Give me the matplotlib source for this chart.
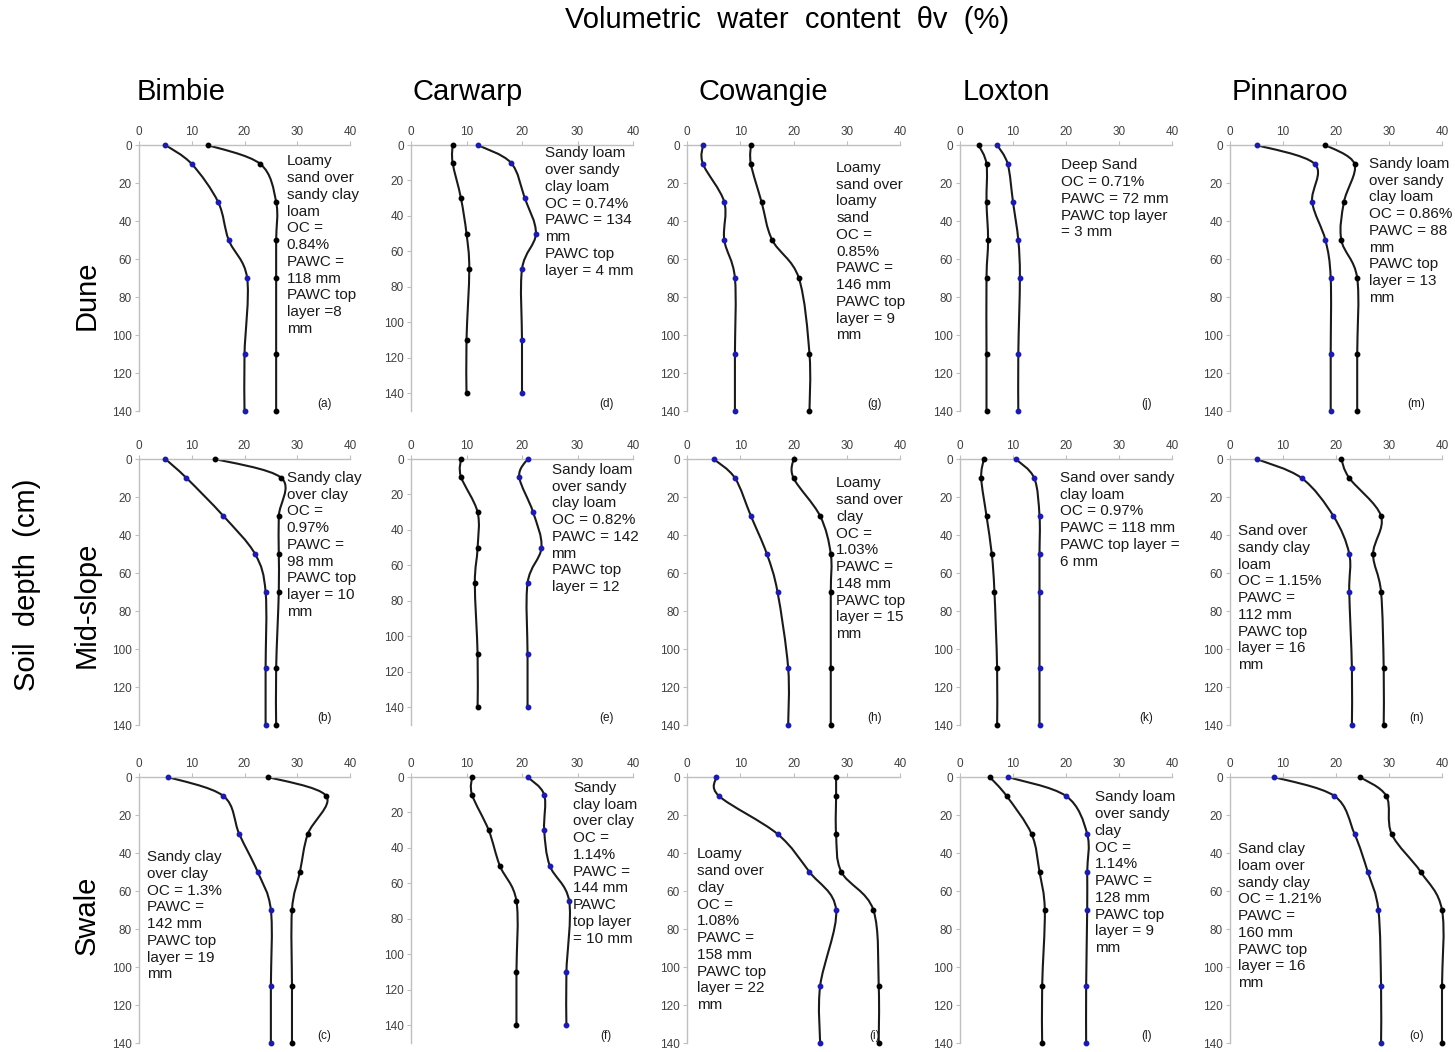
import numpy as np
import matplotlib
matplotlib.use("Agg")
import matplotlib.pyplot as plt
from matplotlib.path import Path
from matplotlib.patches import PathPatch

plt.rcParams['font.family'] = ['Liberation Sans', 'DejaVu Sans']

# depths (cm) where water content was measured
depths = [0, 10, 30, 50, 70, 110, 140]

sites = ["Bimbie", "Carwarp", "Cowangie", "Loxton", "Pinnaroo"]
positions = ["Dune", "Mid-slope", "Swale"]
panel_tags = [["(a)", "(d)", "(g)", "(j)", "(m)"],
              ["(b)", "(e)", "(h)", "(k)", "(n)"],
              ["(c)", "(f)", "(i)", "(l)", "(o)"]]

# blue-marker profile, rows = Dune / Mid-slope / Swale, cols = sites
blue = [
    [[5, 10, 15, 17, 20.5, 20, 20],
     [12, 18, 20.5, 22.5, 20, 20, 20],
     [3, 3, 7, 7, 9, 9, 9],
     [7, 9, 10, 11, 11.3, 11, 11],
     [5, 16, 15.5, 18, 19, 19, 19]],
    [[5, 9, 16, 22, 24, 24, 24],
     [21, 19.5, 22, 23.5, 21, 21, 21],
     [5, 9, 12, 15, 17, 19, 19],
     [10.5, 14, 15, 15, 15, 15, 15],
     [5, 13.5, 19.5, 22.5, 22.5, 23, 23]],
    [[5.5, 16, 19, 22.5, 25, 25, 25],
     [21, 24, 24, 25, 28.5, 28, 28],
     [5.5, 6, 17, 23, 28, 25, 25],
     [9, 20, 24, 24, 24, 23.8, 23.8],
     [8.3, 19.7, 23.5, 26, 28, 28.5, 28.5]],
]
# black-marker profile
black = [
    [[13, 23, 26, 26, 26, 26, 26],
     [7.5, 7.5, 9, 10, 10.5, 10, 10],
     [12, 12, 14, 16, 21, 23, 23],
     [3.5, 5, 5, 5.3, 5, 5, 5],
     [18, 23.5, 21.5, 21, 24, 24, 24]],
    [[14.5, 27, 26.5, 26.5, 26.5, 26, 26],
     [9, 9, 12, 12, 11.5, 12, 12],
     [20, 20, 25, 27, 27, 27, 27],
     [4.5, 4, 5, 6, 6.5, 7, 7],
     [21, 22.5, 28.5, 27, 28.5, 29, 29]],
    [[24.5, 35.5, 32, 30.5, 29, 29, 29],
     [11, 11, 14, 16, 19, 19, 19],
     [28, 28, 28, 29, 35, 36, 36],
     [5.6, 8.8, 13.5, 15, 16, 15.5, 15.5],
     [24.5, 29.5, 30.5, 36, 40, 40, 40]],
]

notes = [
    ["Loamy\nsand over\nsandy clay\nloam\nOC =\n0.84%\nPAWC =\n118 mm\nPAWC top\nlayer =8\nmm",
     "Sandy loam\nover sandy\nclay loam\nOC = 0.74%\nPAWC = 134\nmm\nPAWC top\nlayer = 4 mm",
     "Loamy\nsand over\nloamy\nsand\nOC =\n0.85%\nPAWC =\n146 mm\nPAWC top\nlayer = 9\nmm",
     "Deep Sand\nOC = 0.71%\nPAWC = 72 mm\nPAWC top layer\n= 3 mm",
     "Sandy loam\nover sandy\nclay loam\nOC = 0.86%\nPAWC = 88\nmm\nPAWC top\nlayer = 13\nmm"],
    ["Sandy clay\nover clay\nOC =\n0.97%\nPAWC =\n98 mm\nPAWC top\nlayer = 10\nmm",
     "Sandy loam\nover sandy\nclay loam\nOC = 0.82%\nPAWC = 142\nmm\nPAWC top\nlayer = 12",
     "Loamy\nsand over\nclay\nOC =\n1.03%\nPAWC =\n148 mm\nPAWC top\nlayer = 15\nmm",
     "Sand over sandy\nclay loam\nOC = 0.97%\nPAWC = 118 mm\nPAWC top layer =\n6 mm",
     "Sand over\nsandy clay\nloam\nOC = 1.15%\nPAWC =\n112 mm\nPAWC top\nlayer = 16\nmm"],
    ["Sandy clay\nover clay\nOC = 1.3%\nPAWC =\n142 mm\nPAWC top\nlayer = 19\nmm",
     "Sandy\nclay loam\nover clay\nOC =\n1.14%\nPAWC =\n144 mm\nPAWC\ntop layer\n= 10 mm",
     "Loamy\nsand over\nclay\nOC =\n1.08%\nPAWC =\n158 mm\nPAWC top\nlayer = 22\nmm",
     "Sandy loam\nover sandy\nclay\nOC =\n1.14%\nPAWC =\n128 mm\nPAWC top\nlayer = 9\nmm",
     "Sand clay\nloam over\nsandy clay\nOC = 1.21%\nPAWC =\n160 mm\nPAWC top\nlayer = 16\nmm"],
]
# where the note sits, in axes fractions
note_xy = [
    [(0.70, 0.965), (0.605, 0.995), (0.70, 0.94), (0.476, 0.95), (0.657, 0.955)],
    [(0.70, 0.955), (0.633, 0.985), (0.70, 0.935), (0.47, 0.955), (0.04, 0.755)],
    [(0.04, 0.725), (0.73, 0.985), (0.047, 0.735), (0.635, 0.95), (0.04, 0.755)],
]

W, H = 1455, 1052
col_left = [139, 411, 687, 960, 1230]
col_width = [211, 222, 213, 212, 212]
row_top = [145, 459, 777]
ax_h = 266

GRID = '#bfbfbf'
TXT = '#404040'
BLUE = '#1c1ca8'


def smooth(xs, ys):
    # Excel-like smoothed line: cubic bezier through the points
    pts = np.column_stack([xs, ys]).astype(float)
    n = len(pts)
    verts = [pts[0]]
    codes = [Path.MOVETO]
    for i in range(n - 1):
        p0 = pts[max(i - 1, 0)]
        p1 = pts[i]
        p2 = pts[i + 1]
        p3 = pts[min(i + 2, n - 1)]
        verts += [p1 + (p2 - p0) / 6, p2 - (p3 - p1) / 6, p2]
        codes += [Path.CURVE4] * 3
    return Path(verts, codes)


fig = plt.figure(figsize=(W / 100, H / 100), dpi=100)

for r in range(3):
    for c in range(5):
        ax = fig.add_axes([col_left[c] / W, 1 - (row_top[r] + ax_h) / H,
                           col_width[c] / W, ax_h / H])
        for series, mcol in ((blue[r][c], BLUE), (black[r][c], 'black')):
            ax.add_patch(PathPatch(smooth(series, depths), fill=False,
                                   edgecolor='#1a1a1a', lw=1.5, zorder=2,
                                   clip_on=False))
            ax.plot(series, depths, linestyle='none', marker='o', ms=3.2,
                    color=mcol, zorder=3, clip_on=False)
        ax.set_xlim(0, 40)
        ax.set_ylim(150 if c == 1 else 140, 0)
        ax.set_xticks(range(0, 41, 10))
        ax.set_yticks(range(0, 141, 20))
        ax.xaxis.tick_top()
        for s in ('right', 'bottom'):
            ax.spines[s].set_visible(False)
        for s in ('left', 'top'):
            ax.spines[s].set_color(GRID)
            ax.spines[s].set_linewidth(1.0)
        ax.tick_params(axis='both', length=3, color=GRID, labelsize=8.5,
                       labelcolor=TXT, pad=2)
        ax.patch.set_alpha(0)
        nx, ny = note_xy[r][c]
        ax.text(nx, ny, notes[r][c], transform=ax.transAxes, ha='left',
                va='top', fontsize=11, color='#1a1a1a', linespacing=1.25)
        ax.text(0.88, 0.005, panel_tags[r][c], transform=ax.transAxes,
                ha='center', va='bottom', fontsize=8.5, color='#1a1a1a')

fig.text(787 / W, 1 - 20 / H, "Volumetric  water  content  θv  (%)",
         ha='center', va='center', fontsize=21)
site_x = [181, 468, 763, 1006, 1290]
for name, x in zip(sites, site_x):
    fig.text(x / W, 1 - 92 / H, name, ha='center', va='center', fontsize=21)
pos_y = [295, 605, 915]
for name, y in zip(positions, pos_y):
    fig.text(87 / W, 1 - y / H, name, ha='center', va='center', fontsize=21,
             rotation=90)
fig.text(27 / W, 1 - 585 / H, "Soil  depth  (cm)", ha='center', va='center',
         fontsize=21, rotation=90)

fig.savefig("out.png", dpi=100)
